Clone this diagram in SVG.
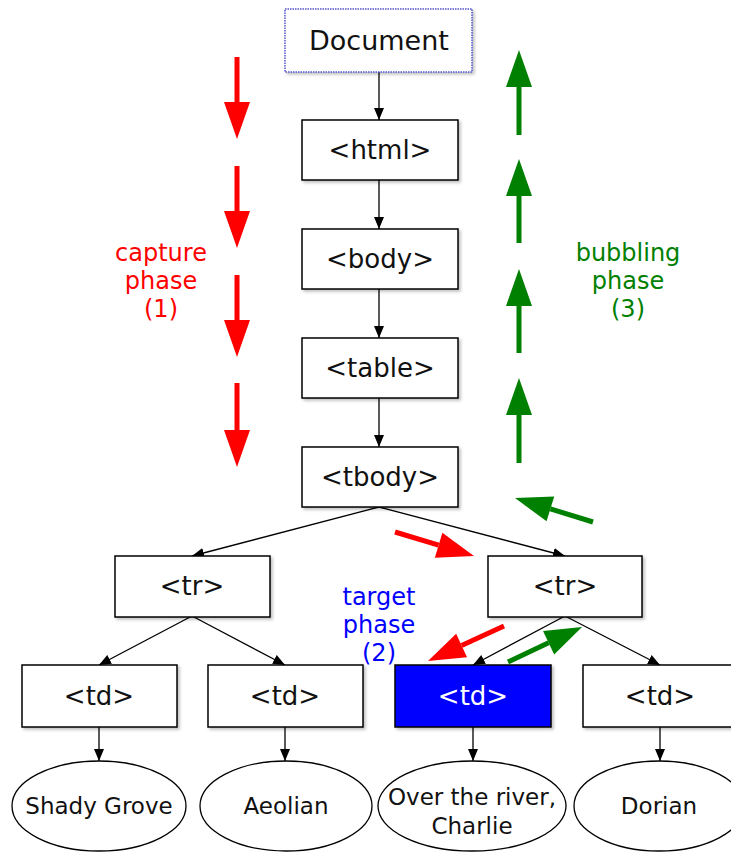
<svg xmlns="http://www.w3.org/2000/svg" width="731" height="852" viewBox="0 0 731 852">
<style>
.box{fill:#fff;stroke:#000;stroke-width:1.5}
.lbl{font-family:"DejaVu Sans","Liberation Sans",sans-serif;font-size:26px;text-anchor:middle;fill:#111}
.elbl{font-family:"DejaVu Sans","Liberation Sans",sans-serif;font-size:23px;text-anchor:middle;fill:#111}
.conn{stroke:#000;stroke-width:1.3;fill:none;marker-end:url(#ah)}
.red{stroke:#ff0000;stroke-width:5;fill:none;marker-end:url(#hr)}
.green{stroke:#008000;stroke-width:5;fill:none;marker-end:url(#hg)}
.phase{font-family:"DejaVu Sans","Liberation Sans",sans-serif;font-size:24px;text-anchor:middle}
</style>
<defs>
<filter id="sh" x="-10%" y="-10%" width="130%" height="130%">
<feDropShadow dx="2" dy="2" stdDeviation="1.5" flood-color="#000" flood-opacity="0.25"/>
</filter>
<marker id="ah" markerUnits="userSpaceOnUse" markerWidth="14" markerHeight="12" refX="12" refY="5" orient="auto">
<path d="M0,0 L12,5 L0,10 z" fill="#000"/>
</marker>
<marker id="hr" markerUnits="userSpaceOnUse" markerWidth="40" markerHeight="28" refX="0" refY="13" orient="auto" overflow="visible">
<path d="M0,0 L37,13 L0,26 z" fill="#ff0000"/>
</marker>
<marker id="hg" markerUnits="userSpaceOnUse" markerWidth="40" markerHeight="28" refX="0" refY="13" orient="auto" overflow="visible">
<path d="M0,0 L37,13 L0,26 z" fill="#008000"/>
</marker>
</defs>
<rect width="731" height="852" fill="#fff"/>

<g id="connectors">
<line class="conn" x1="379" y1="72" x2="379" y2="120"/>
<line class="conn" x1="379" y1="180" x2="379" y2="229"/>
<line class="conn" x1="379" y1="289" x2="379" y2="338"/>
<line class="conn" x1="379" y1="398" x2="379" y2="447"/>
<line class="conn" x1="379" y1="507" x2="192" y2="556"/>
<line class="conn" x1="379" y1="507" x2="565" y2="556"/>
<line class="conn" x1="192" y1="616" x2="99" y2="665"/>
<line class="conn" x1="192" y1="616" x2="285" y2="665"/>
<line class="conn" x1="565" y1="616" x2="473" y2="665"/>
<line class="conn" x1="565" y1="616" x2="660" y2="665"/>
<line class="conn" x1="99" y1="727" x2="99" y2="761"/>
<line class="conn" x1="285" y1="727" x2="285" y2="761"/>
<line class="conn" x1="473" y1="727" x2="473" y2="761"/>
<line class="conn" x1="660" y1="727" x2="660" y2="761"/>
</g>

<g id="document">
<rect x="285" y="9" width="187" height="63" fill="#fff" stroke="#5555cc" stroke-width="1.5" stroke-dasharray="1.5,1" filter="url(#sh)"/>
<text class="lbl" x="379" y="50" style="font-size:27px">Document</text>
</g>
<g id="html">
<rect class="box" x="302" y="120" width="156" height="60" filter="url(#sh)"/>
<text class="lbl" x="380" y="159">&lt;html&gt;</text>
</g>
<g id="body">
<rect class="box" x="302" y="229" width="156" height="60" filter="url(#sh)"/>
<text class="lbl" x="380" y="268">&lt;body&gt;</text>
</g>
<g id="table">
<rect class="box" x="302" y="338" width="156" height="60" filter="url(#sh)"/>
<text class="lbl" x="380" y="377">&lt;table&gt;</text>
</g>
<g id="tbody">
<rect class="box" x="302" y="447" width="156" height="60" filter="url(#sh)"/>
<text class="lbl" x="380" y="486">&lt;tbody&gt;</text>
</g>
<g id="tr1">
<rect class="box" x="115" y="556" width="155" height="61" filter="url(#sh)"/>
<text class="lbl" x="192" y="595">&lt;tr&gt;</text>
</g>
<g id="tr2">
<rect class="box" x="488" y="556" width="154" height="61" filter="url(#sh)"/>
<text class="lbl" x="565" y="595">&lt;tr&gt;</text>
</g>
<g id="td1">
<rect class="box" x="22" y="665" width="155" height="62" filter="url(#sh)"/>
<text class="lbl" x="99" y="705">&lt;td&gt;</text>
</g>
<g id="td2">
<rect class="box" x="208" y="665" width="155" height="62" filter="url(#sh)"/>
<text class="lbl" x="285" y="705">&lt;td&gt;</text>
</g>
<g id="td3">
<rect x="395" y="665" width="156" height="62" fill="#0000ff" stroke="#000" stroke-width="1.5" filter="url(#sh)"/>
<text class="lbl" x="473" y="705" style="fill:#fff">&lt;td&gt;</text>
</g>
<g id="td4">
<rect class="box" x="583" y="665" width="155" height="62" filter="url(#sh)"/>
<text class="lbl" x="660" y="705">&lt;td&gt;</text>
</g>

<g id="e1">
<ellipse cx="99" cy="806" rx="87" ry="45" fill="#fff" stroke="#000" stroke-width="1.3"/>
<text class="elbl" x="99" y="814">Shady Grove</text>
</g>
<g id="e2">
<ellipse cx="286" cy="806" rx="86" ry="45" fill="#fff" stroke="#000" stroke-width="1.3"/>
<text class="elbl" x="286" y="814">Aeolian</text>
</g>
<g id="e3">
<ellipse cx="472" cy="806" rx="94" ry="45" fill="#fff" stroke="#000" stroke-width="1.3"/>
<text class="elbl" x="472" y="805">Over the river,</text>
<text class="elbl" x="472" y="834">Charlie</text>
</g>
<g id="e4">
<ellipse cx="659" cy="806" rx="85" ry="45" fill="#fff" stroke="#000" stroke-width="1.3"/>
<text class="elbl" x="659" y="814">Dorian</text>
</g>

<g id="capture-arrows">
<line class="red" x1="237" y1="57" x2="237" y2="102"/>
<line class="red" x1="237" y1="166" x2="237" y2="211"/>
<line class="red" x1="237" y1="275" x2="237" y2="320"/>
<line class="red" x1="237" y1="383" x2="237" y2="430"/>
<line class="red" x1="395" y1="532" x2="438.6" y2="545.2"/>
<line class="red" x1="504" y1="626" x2="461.6" y2="645.5"/>
</g>
<g id="bubble-arrows">
<line class="green" x1="519" y1="135" x2="519" y2="87"/>
<line class="green" x1="519" y1="243" x2="519" y2="196"/>
<line class="green" x1="519" y1="353" x2="519" y2="306"/>
<line class="green" x1="519" y1="463" x2="519" y2="415"/>
<line class="green" x1="593" y1="522" x2="550.4" y2="508.9"/>
<line class="green" x1="508" y1="662" x2="548.6" y2="642.8"/>
</g>

<g id="capture-label" class="phase" fill="#ff0000">
<text x="161" y="261">capture</text>
<text x="161" y="289">phase</text>
<text x="161" y="317">(1)</text>
</g>
<g id="bubbling-label" class="phase" fill="#008000">
<text x="628" y="261">bubbling</text>
<text x="628" y="289">phase</text>
<text x="628" y="317">(3)</text>
</g>
<g id="target-label" class="phase" fill="#0000ff">
<text x="379" y="605">target</text>
<text x="379" y="633">phase</text>
<text x="379" y="661">(2)</text>
</g>
</svg>
